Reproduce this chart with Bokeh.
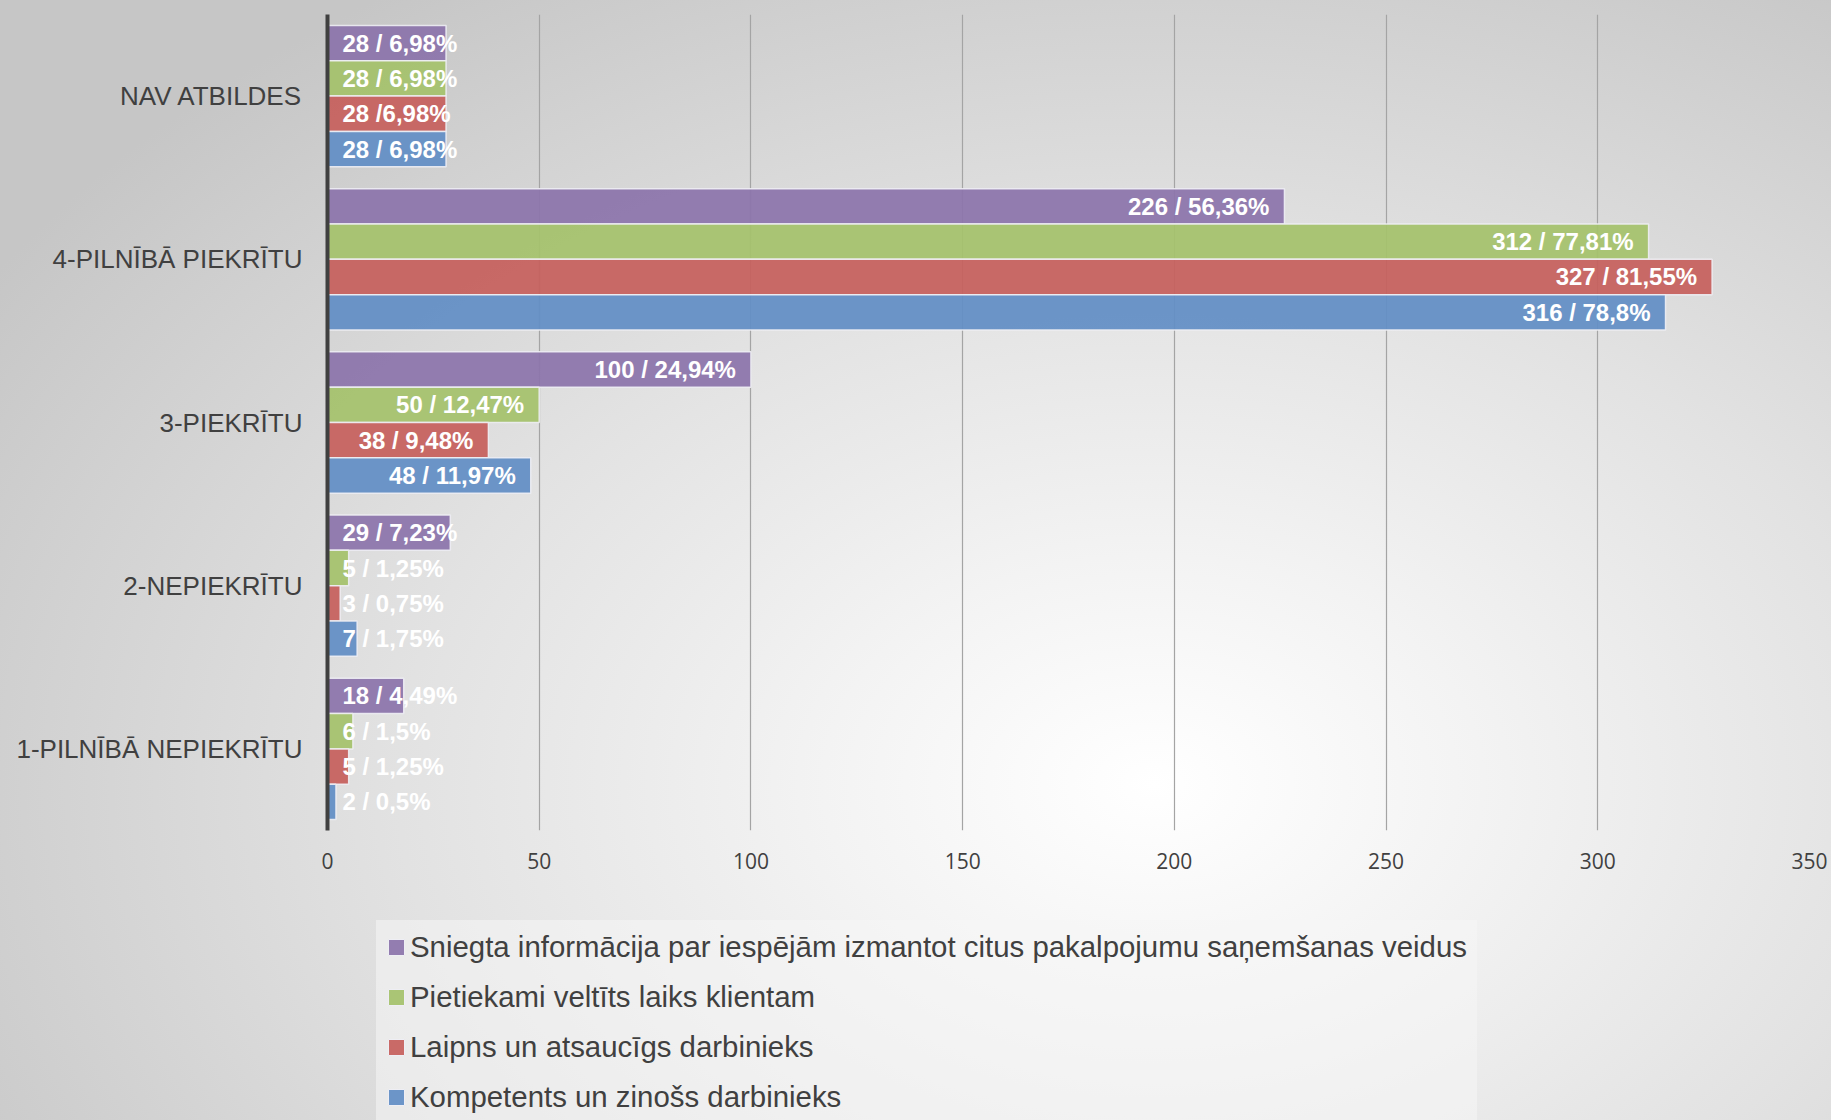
from bokeh.plotting import figure
from bokeh.layouts import column
from bokeh.models import (Range1d, FactorRange, ColumnDataSource, Legend, LegendItem,
                          FixedTicker)
from bokeh.transform import dodge
from bokeh.core.properties import value, field
from bokeh.embed import file_html
from bokeh.resources import INLINE

# ---------------- data ----------------
categories = ["1-PILNĪBĀ NEPIEKRĪTU", "2-NEPIEKRĪTU", "3-PIEKRĪTU",
              "4-PILNĪBĀ PIEKRĪTU", "NAV ATBILDES"]

series_names = [
    "Sniegta informācija par iespējām izmantot citus pakalpojumu saņemšanas veidus",
    "Pietiekami veltīts laiks klientam",
    "Laipns un atsaucīgs darbinieks",
    "Kompetents un zinošs darbinieks",
]

sniegta = [18, 29, 100, 226, 28]
sniegta_labels = ["18 / 4,49%", "29 / 7,23%", "100 / 24,94%", "226 / 56,36%", "28 / 6,98%"]

pietiekami = [6, 5, 50, 312, 28]
pietiekami_labels = ["6 / 1,5%", "5 / 1,25%", "50 / 12,47%", "312 / 77,81%", "28 / 6,98%"]

laipns = [5, 3, 38, 327, 28]
laipns_labels = ["5 / 1,25%", "3 / 0,75%", "38 / 9,48%", "327 / 81,55%", "28 /6,98%"]

kompetents = [2, 7, 48, 316, 28]
kompetents_labels = ["2 / 0,5%", "7 / 1,75%", "48 / 11,97%", "316 / 78,8%", "28 / 6,98%"]

x_ticks = [0, 50, 100, 150, 200, 250, 300, 350]

# ---------------- style ----------------
colors = ["#8c74ab", "#a5c26c", "#c6605d", "#628ec5"]
W, H = 1831, 1120
H_MAIN = 888
ML, MR, MT, MB = 327, 22, 14, 58
XMAX = 350
px_per_unit = (W - ML - MR) / XMAX
bar_h = 0.2165
offsets = [1.5 * bar_h, 0.5 * bar_h, -0.5 * bar_h, -1.5 * bar_h]

p = figure(width=W, height=H_MAIN, output_backend="svg", toolbar_location=None,
           x_range=Range1d(0, XMAX), y_range=FactorRange(*categories),
           min_border_left=ML, min_border_right=MR, min_border_top=MT,
           min_border_bottom=MB)
p.background_fill_alpha = 0
p.border_fill_alpha = 0
p.outline_line_color = None

# grid
p.ygrid.grid_line_color = None
p.xgrid.grid_line_color = "#a4a4a4"
p.xgrid.grid_line_width = 1.2
p.xgrid.ticker = FixedTicker(ticks=x_ticks)

# axes
p.xaxis.ticker = FixedTicker(ticks=x_ticks)
p.xaxis.axis_line_color = None
p.xaxis.major_tick_line_color = None
p.xaxis.minor_tick_line_color = None
p.xaxis.major_label_text_font = "Open Sans"
p.xaxis.major_label_text_font_size = "21px"
p.xaxis.major_label_text_color = "#404040"
p.xaxis.major_label_standoff = 16

p.yaxis.axis_line_color = "#404040"
p.yaxis.axis_line_width = 4
p.yaxis.major_tick_line_color = None
p.yaxis.minor_tick_line_color = None
p.yaxis.major_label_text_font = "Liberation Sans"
p.yaxis.major_label_text_font_size = "26px"
p.yaxis.major_label_text_color = "#404040"
p.yaxis.major_label_standoff = 19

all_vals = [sniegta, pietiekami, laipns, kompetents]
all_labels = [sniegta_labels, pietiekami_labels, laipns_labels, kompetents_labels]

# legend figure (below the chart)
H_LEG = H - H_MAIN
pl = figure(width=W, height=H_LEG, output_backend="svg", toolbar_location=None,
            x_range=Range1d(0, 1), y_range=Range1d(0, 1),
            x_axis_location=None, y_axis_location=None,
            min_border_left=0, min_border_right=0, min_border_top=0,
            min_border_bottom=0)
pl.background_fill_alpha = 0
pl.border_fill_alpha = 0
pl.outline_line_color = None
pl.grid.grid_line_color = None

items = []
for name, vals, labs, col, off in zip(series_names, all_vals, all_labels, colors, offsets):
    lx, align, xoff = [], [], []
    for v, lab in zip(vals, labs):
        est_w = len(lab) * 0.5 * 24
        if v * px_per_unit >= est_w + 30:
            lx.append(v); align.append("right"); xoff.append(-15)
        else:
            lx.append(0); align.append("left"); xoff.append(15)
    src = ColumnDataSource(dict(cat=categories, val=vals, label=labs,
                                lx=lx, align=align, xoff=xoff))
    p.hbar(y=dodge("cat", off, range=p.y_range), right="val", left=0,
           height=bar_h, source=src, fill_color=col, fill_alpha=0.93,
           line_color="#eeeef4", line_width=1.5, line_alpha=0.9)
    p.text(x="lx", y=dodge("cat", off, range=p.y_range), text="label",
           source=src, text_align=field("align"), x_offset=field("xoff"),
           text_baseline="middle", text_color="white",
           text_font=value("Liberation Sans"), text_font_style="bold",
           text_font_size="24px")
    # legend swatch renderer: one bar of the series placed outside the legend
    # panel's visible range; it only supplies the legend glyph
    lsrc = ColumnDataSource(dict(y=[-10.0], right=[vals[-1]]))
    lr = pl.hbar(y="y", right="right", left=0, height=0.1, source=lsrc,
                 fill_color=col, fill_alpha=0.93, line_color="#eeeef4",
                 line_width=1)
    items.append(LegendItem(label=name, renderers=[lr]))

LEG_TOP = 924 - H_MAIN
LEG_SPACING = 16
LEG_H = 2 * 10 + 4 * 33 + 3 * LEG_SPACING
legend = Legend(items=items, location=(49, H_LEG - LEG_TOP - LEG_H),
                orientation="vertical",
                label_text_font="Liberation Sans", label_text_font_size="29.4px",
                label_text_color="#404040", glyph_width=20, glyph_height=20,
                label_height=33, label_standoff=4, spacing=LEG_SPACING, padding=10,
                margin=0, background_fill_color="#f6f6f6",
                background_fill_alpha=0.55, border_line_alpha=0)
pl.add_layout(legend, "center")

layout = column(p, pl, spacing=0)
layout.styles = {"background": "radial-gradient(ellipse 75% 85% at 63% 70%, #ffffff 0%, #f3f3f3 24%, #e2e2e2 55%, #c6c6c6 100%)"}

open("out.html", "w").write(file_html(layout, INLINE))
